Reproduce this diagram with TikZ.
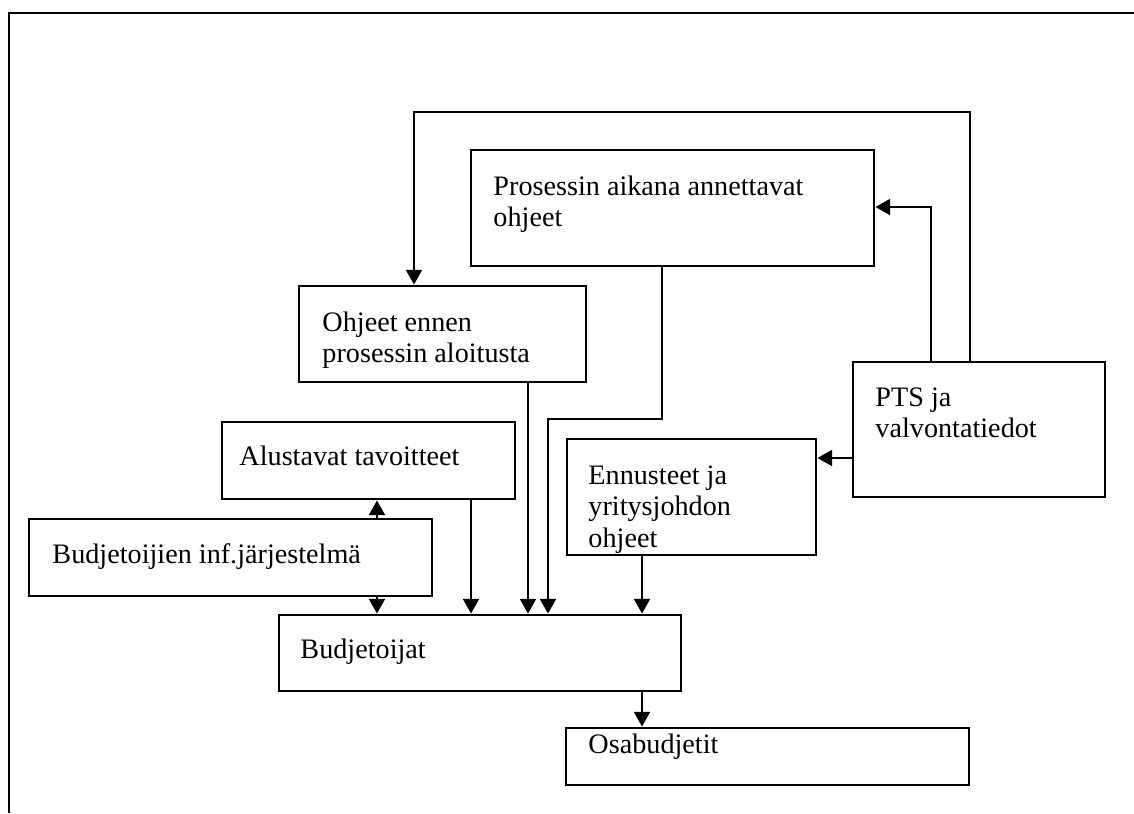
\documentclass[tikz,border=0pt]{standalone}
\usepackage{fontspec}
\setmainfont{Liberation Serif}
\usetikzlibrary{arrows.meta,fit}
\begin{document}
\begin{tikzpicture}[x=0.408pt,y=-0.408pt,
  box/.style={draw,line width=1.15pt,inner sep=0pt,rectangle},
  lbl/.style={inner sep=0pt,anchor=north west,align=left,
    font=\fontsize{11.5pt}{12.9pt}\selectfont},
  arr/.style={draw,line width=1.15pt,-{Triangle[width=6.4pt,length=6pt]}},
  frameline/.style={draw,line width=1.2pt}]
\useasboundingbox (0,0) rectangle (1134,813);

% outer border (top and left sides only)
\draw[frameline] (9,813) -- (9,13) -- (1134,13);

% boxes
\node[box,fit={(471,150) (874,266)}] (pros) {};
\node[box,fit={(299,286) (586,382)}] (ohj) {};
\node[box,fit={(222,422) (515,499)}] (alu) {};
\node[box,fit={(29,519) (432,596)}] (bif) {};
\node[box,fit={(279,615) (681,691)}] (bud) {};
\node[box,fit={(567,439) (816,555)}] (enn) {};
\node[box,fit={(853,362) (1105,497)}] (pts) {};
\node[box,fit={(566,728) (969,785)}] (osa) {};

% labels
\node[lbl] (prosT) at (493,175) {Prosessin aikana annettavat\\ohjeet};
\node[lbl] (ohjT) at (322,311) {Ohjeet ennen\\prosessin aloitusta};
\node[lbl] (aluT) at (239,445) {Alustavat tavoitteet};
\node[lbl] (bifT) at (52,543) {Budjetoijien inf.järjestelmä};
\node[lbl] (budT) at (300,638) {Budjetoijat};
\node[lbl] (ennT) at (588,465) {Ennusteet ja\\yritysjohdon\\ohjeet};
\node[lbl] (ptsT) at (875,387) {PTS ja\\valvontatiedot};
\node[lbl] (osaT) at (588,733) {Osabudjetit};

% routing points
\coordinate (loopR) at (970,112);
\coordinate (loopL) at (414,112);
\coordinate (pk) at (931,207);
\coordinate (pe) at (853,458);
\coordinate (pd) at (662,419);
\coordinate (pl) at (548,419);
\coordinate (xa) at (377,0);
\coordinate (xb) at (471,0);
\coordinate (xc) at (528,0);
\coordinate (xe) at (642,0);

% connectors
\draw[arr] (pts.north -| loopR) -- (loopR) -- (loopL) -- (loopL |- ohj.north);
\draw[arr] (pts.north -| pk) -- (pk) -- (pk -| pros.east);
\draw[arr] (pe) -- (pe -| enn.east);
\draw[arr] (pros.south -| pd) -- (pd) -- (pl) -- (pl |- bud.north);
\draw[arr] (ohj.south -| xc) -- (xc |- bud.north);
\draw[arr] (alu.south -| xb) -- (xb |- bud.north);
\draw[arr] (bif.north -| xa) -- (xa |- alu.south);
\draw[arr] (bif.south -| xa) -- (xa |- bud.north);
\draw[arr] (enn.south -| xe) -- (xe |- bud.north);
\draw[arr] (bud.south -| xe) -- (xe |- osa.north);
\end{tikzpicture}
\end{document}
